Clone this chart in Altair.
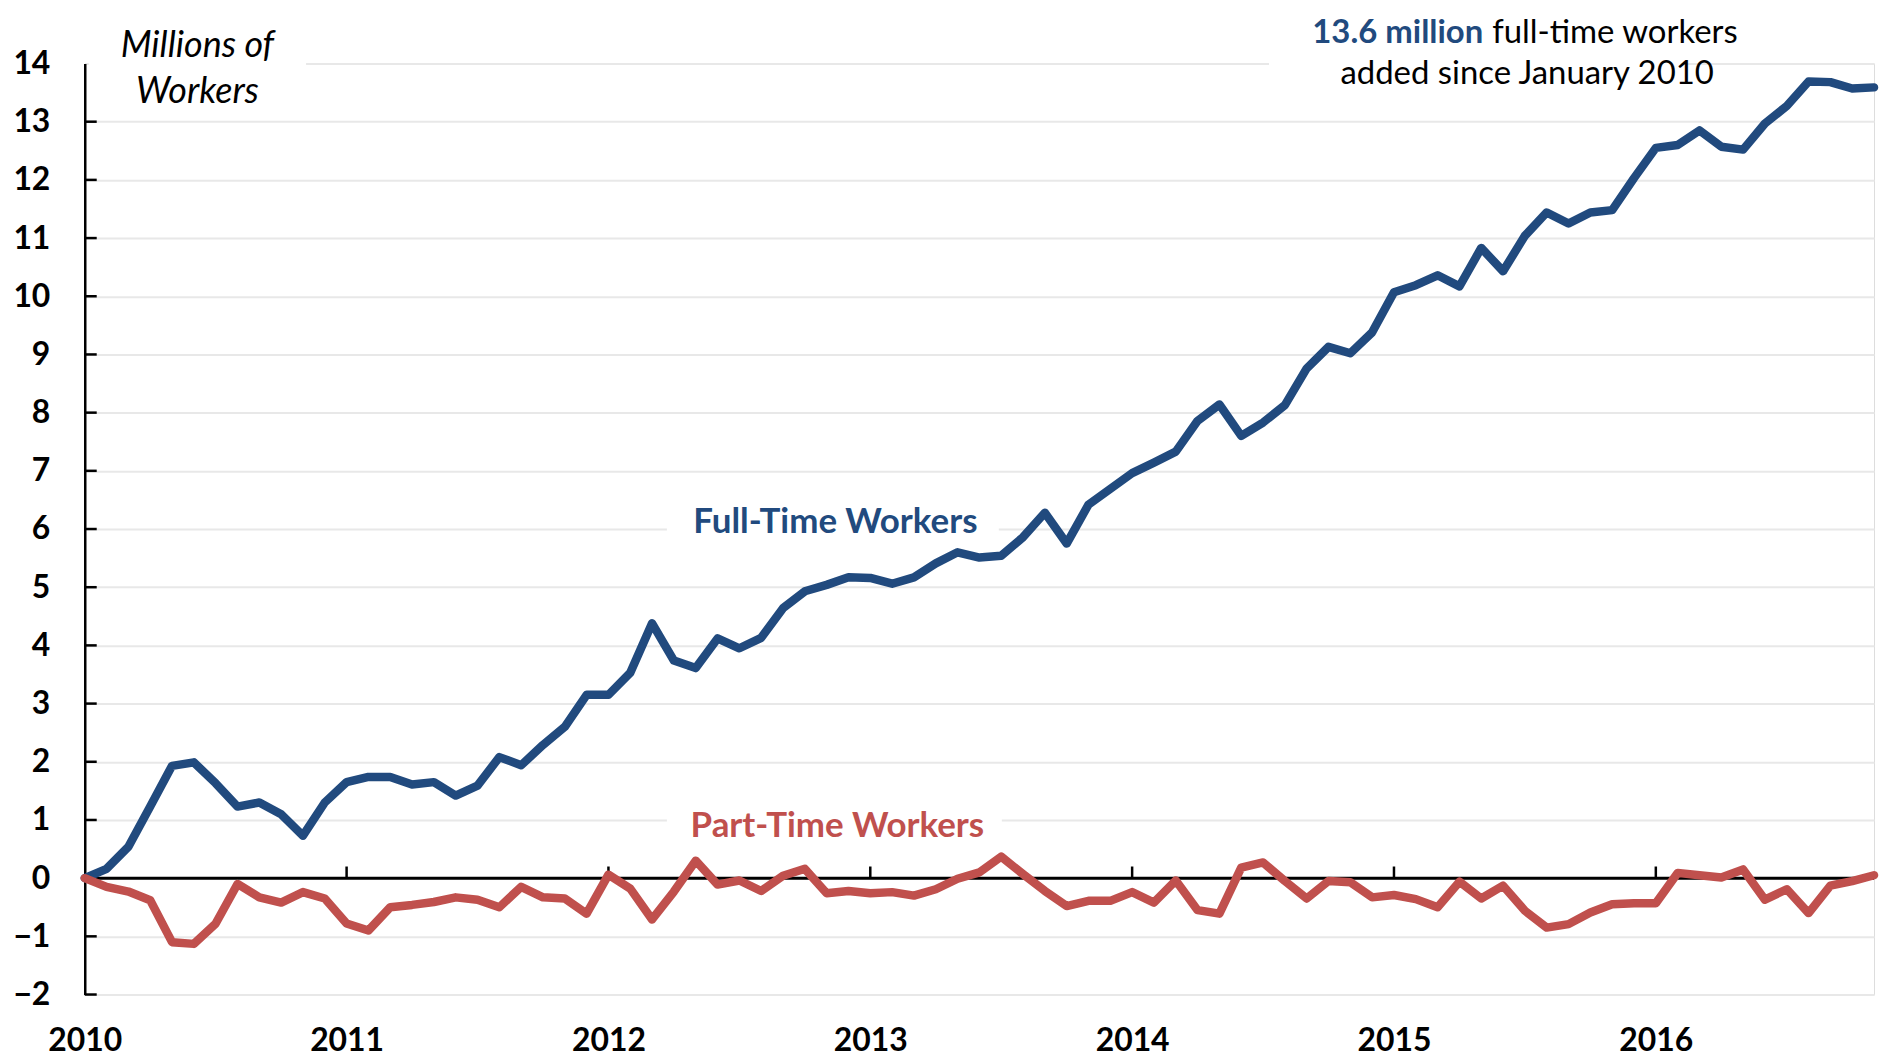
import altair as alt
import pandas as pd

# ---------------- data ----------------
years = ["2010", "2011", "2012", "2013", "2014", "2015", "2016"]
y_ticks = list(range(-2, 15))

full_time = [
    0.00, 0.16, 0.54, 1.23, 1.93, 1.99, 1.63, 1.23, 1.30, 1.10, 0.73, 1.30,      # 2010
    1.65, 1.74, 1.74, 1.61, 1.65, 1.42, 1.59, 2.08, 1.94, 2.29, 2.60, 3.15,      # 2011
    3.15, 3.53, 4.38, 3.74, 3.61, 4.12, 3.95, 4.13, 4.64, 4.93, 5.04, 5.17,      # 2012
    5.16, 5.06, 5.17, 5.41, 5.60, 5.51, 5.54, 5.86, 6.28, 5.75, 6.42, 6.69,      # 2013
    6.96, 7.14, 7.33, 7.86, 8.14, 7.60, 7.83, 8.13, 8.76, 9.13, 9.02, 9.38,      # 2014
    10.07, 10.19, 10.36, 10.17, 10.83, 10.43, 11.04, 11.44, 11.25, 11.44, 11.48, 12.03,  # 2015
    12.55, 12.60, 12.85, 12.57, 12.52, 12.97, 13.27, 13.69, 13.68, 13.57, 13.59,  # 2016
]
part_time = [
    0.00, -0.15, -0.23, -0.38, -1.10, -1.13, -0.78, -0.10, -0.33, -0.42, -0.24, -0.35,  # 2010
    -0.78, -0.90, -0.50, -0.46, -0.41, -0.33, -0.37, -0.50, -0.15, -0.33, -0.35, -0.61,  # 2011
    0.06, -0.18, -0.71, -0.23, 0.30, -0.11, -0.04, -0.22, 0.04, 0.16, -0.26, -0.22,     # 2012
    -0.26, -0.24, -0.30, -0.19, -0.01, 0.10, 0.37, 0.07, -0.22, -0.48, -0.39, -0.39,    # 2013
    -0.24, -0.42, -0.04, -0.55, -0.61, 0.18, 0.27, -0.05, -0.35, -0.05, -0.07, -0.33,   # 2014
    -0.29, -0.36, -0.50, -0.06, -0.35, -0.13, -0.56, -0.85, -0.79, -0.59, -0.45, -0.43, # 2015
    -0.43, 0.09, 0.05, 0.01, 0.15, -0.37, -0.19, -0.60, -0.13, -0.05, 0.05,             # 2016
]
series_names = ["Full-Time Workers", "Part-Time Workers"]

# ---------------- styling ----------------
BLUE = "#214A7E"
RED = "#C0504D"
FONT = "Lato"
W, H = 1795, 934

n = len(full_time)
df = pd.DataFrame({
    "m": list(range(n)) * 2,
    "value": full_time + part_time,
    "series": [series_names[0]] * n + [series_names[1]] * n,
})
year_pos = pd.DataFrame({"m": [12 * i for i in range(1, len(years))]})
ytick_df = pd.DataFrame({"value": [v for v in y_ticks if v != 14]})

x_scale = alt.Scale(domain=[0, n - 1], nice=False, zero=False)
y_scale = alt.Scale(domain=[min(y_ticks), max(y_ticks)], nice=False)

label_expr = "[" + ",".join("'%s'" % y for y in years) + "][round(datum.value / 12)]"

lines = alt.Chart(df).mark_line(strokeWidth=8.5, strokeJoin="round", strokeCap="round").encode(
    x=alt.X("m:Q", scale=x_scale, title=None, axis=alt.Axis(
        values=[12 * i for i in range(len(years))], labelExpr=label_expr,
        domain=False, ticks=False, tickSize=0, grid=False, title=None,
        labelFont=FONT, labelFontSize=32, labelFontWeight="bold", labelColor="black",
        labelPadding=56, labelBaseline="alphabetic", labelFlush=False, labelOverlap=False)),
    y=alt.Y("value:Q", scale=y_scale, title=None, axis=alt.Axis(
        values=y_ticks, format="d", domain=True, domainColor="black", domainWidth=2.5,
        ticks=False, tickSize=0, grid=True, gridColor="#E8E8E8", gridWidth=2,
        title=None, labelFont=FONT, labelFontSize=32, labelFontWeight="bold",
        labelColor="black", labelPadding=35, labelBaseline="middle")),
    color=alt.Color("series:N", scale=alt.Scale(domain=series_names, range=[BLUE, RED]), legend=None),
)

# white boxes behind annotations (mask gridlines like the original)
def box(x0, x1, y0, y1):
    return alt.Chart(pd.DataFrame({"k": [0]})).mark_rect(color="white").encode(
        x=alt.value(x0), x2=alt.value(x1), y=alt.value(y0), y2=alt.value(y1))

boxes = [
    box(4, 222, -42, 46),
    box(1188, 1601, -54, 38),
    box(584, 917, 438, 478),
    box(584, 920, 746, 783),
]

zero_rule = alt.Chart(pd.DataFrame({"value": [0]})).mark_rule(color="black", strokeWidth=3).encode(
    y=alt.Y("value:Q", scale=y_scale, title=None),
    x=alt.value(0), x2=alt.value(W))

year_ticks = alt.Chart(year_pos).transform_calculate(value="0", value2="0.2").mark_rule(
    color="black", strokeWidth=2.5).encode(
    x=alt.X("m:Q", scale=x_scale, title=None),
    y=alt.Y("value:Q", scale=y_scale, title=None), y2="value2:Q")

y_inner_ticks = alt.Chart(ytick_df).mark_rule(color="black", strokeWidth=2.5).encode(
    y=alt.Y("value:Q", scale=y_scale, title=None),
    x=alt.value(0), x2=alt.value(12))

def text(s, x, y, color="black", weight="normal", style="normal", size=30, align="center"):
    return alt.Chart(pd.DataFrame({"t": [s]})).mark_text(
        font=FONT, fontSize=size, fontWeight=weight, fontStyle=style, color=color,
        align=align, baseline="alphabetic").encode(
        x=alt.value(x), y=alt.value(y), text="t:N")

texts = [
    text("Millions of", 113, -7, style="italic", size=36),
    text("Workers", 113, 40, style="italic", size=36),
    text("13.6 million", 1403, -21, color=BLUE, weight="bold", size=33, align="right"),
    text("full-time workers", 1412, -21, size=33, align="left"),
    text("added since January 2010", 1447, 21, size=33),
    text(series_names[0], 753, 471, color=BLUE, weight="bold", size=35),
    text(series_names[1], 755, 776, color=RED, weight="bold", size=35),
]

chart = alt.layer(*boxes, zero_rule, year_ticks, y_inner_ticks, lines, *texts).properties(
    width=W, height=H,
    padding={"left": 77, "top": 54, "right": 8, "bottom": 64},
    autosize=alt.AutoSizeParams(type="none"),
).configure_view(strokeWidth=0).configure(background="white")

chart.save("out.html", embed_options={"renderer": "svg", "actions": False})
